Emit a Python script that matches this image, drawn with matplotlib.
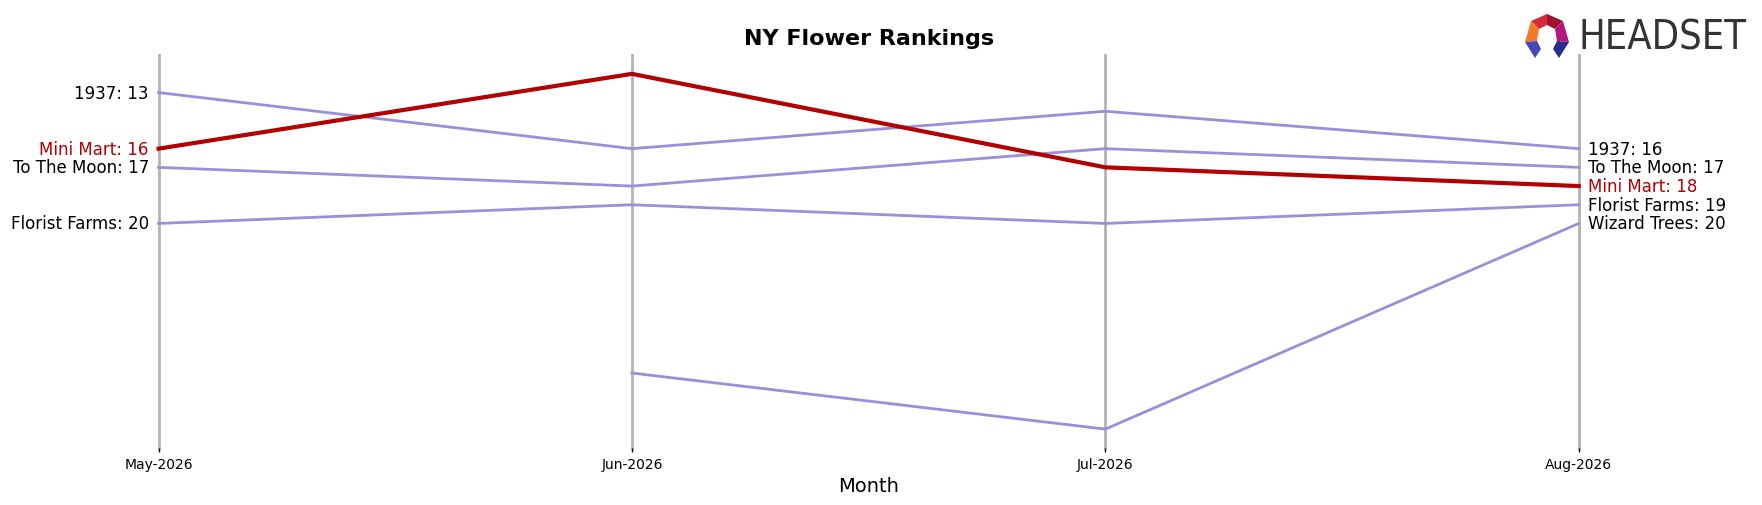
import numpy as np
import matplotlib
matplotlib.use("Agg")
import matplotlib.pyplot as plt
from matplotlib import font_manager as fm
from matplotlib.patches import Polygon

  # data
months = ["May-2026", "Jun-2026", "Jul-2026", "Aug-2026"]
brands = ["1937", "To The Moon", "Florist Farms", "Wizard Trees", "Mini Mart"]
ranks = {
  "1937":          [13, 16, 14, 16],
  "To The Moon":   [17, 18, 16, 17],
  "Florist Farms": [20, 19, 20, 19],
  "Wizard Trees":  [np.nan, 28, 31, 20],
  "Mini Mart":     [16, 12, 17, 18],
}
focus = "Mini Mart"

purple = "#9b8fd9"; red = "#b30000"; grey = "#b3b3b3"

fig = plt.figure(figsize=(17.62, 5.06), dpi=100)
ax = fig.add_axes([0.09, 0.113, 0.806, 0.776])
x = np.arange(len(months))

for xi in x:
  ax.axvline(xi, color=grey, linewidth=2, zorder=0, clip_on=False)

for b in brands:
  y = np.array(ranks[b], dtype=float)
  if b == focus:
    ax.plot(x, y, color=red, linewidth=3, zorder=3, clip_on=False)
  else:
    ax.plot(x, y, color=purple, linewidth=2, zorder=2, clip_on=False)

  # end labels
for b in brands:
  y = ranks[b]; col = red if b == focus else "black"
  if not np.isnan(y[0]):
    ax.annotate("%s: %d" % (b, y[0]), (x[0], y[0]), xytext=(-7, 0), textcoords="offset points",
                ha="right", va="center", fontsize=12, color=col)
  if not np.isnan(y[-1]):
    ax.annotate("%s: %d" % (b, y[-1]), (x[-1], y[-1]), xytext=(7, 0), textcoords="offset points",
                ha="left", va="center", fontsize=12, color=col)

allv = np.array([v for b in brands for v in ranks[b] if not np.isnan(v)])
ax.set_ylim(allv.max() + 1, allv.min() - 1)
ax.set_xlim(x[0], x[-1])
ax.set_xticks(x)
ax.set_xticklabels(months, fontsize=10)
ax.set_yticks([])
ax.tick_params(axis="x", length=3, width=1)
for s in ax.spines.values():
  s.set_visible(False)
ax.set_xlabel("Month", fontsize=14)
ax.set_title("NY Flower Rankings", fontsize=16, fontweight="bold", pad=8)

  # logo, drawn in pixel coords
lax = fig.add_axes([1515/1762, 1 - 62/506, 240/1762, 52/506])
lax.set_xlim(1515, 1755); lax.set_ylim(62, 10); lax.axis("off")
T=(1547,15); UL=(1531,22); L=(1525,43); LL=(1535,59); UR=(1563,22); R=(1569,43); RL=(1559,59)
iT=(1547,26); iUL=(1539,30); iL=(1537,42); iUR=(1555,30); iR=(1557,42)
parts = [
  ([T, iT, iUL, UL], "#d42a3c"),
  ([T, UR, iUR, iT], "#9e1430"),
  ([UL, iUL, iL, L], "#f07a2a"),
  ([UR, R, iR, iUR], "#b5177e"),
  ([L, iL, (1541,50), LL], "#4448b5"),
  ([R, RL, (1553,50), iR], "#2a2f8f"),
]
for pts, c in parts:
  lax.add_patch(Polygon(pts, closed=True, facecolor=c, edgecolor="none"))
logo_prop = fm.FontProperties(family="DejaVu Sans", stretch="condensed", size=28.5)
if "Condensed" not in fm.findfont(logo_prop):
  logo_prop = fm.FontProperties(family="DejaVu Sans", size=25)
lax.text(1579, 38, "HEADSET", fontproperties=logo_prop, color="#333333", ha="left", va="center")

fig.savefig("out.png", dpi=100)
